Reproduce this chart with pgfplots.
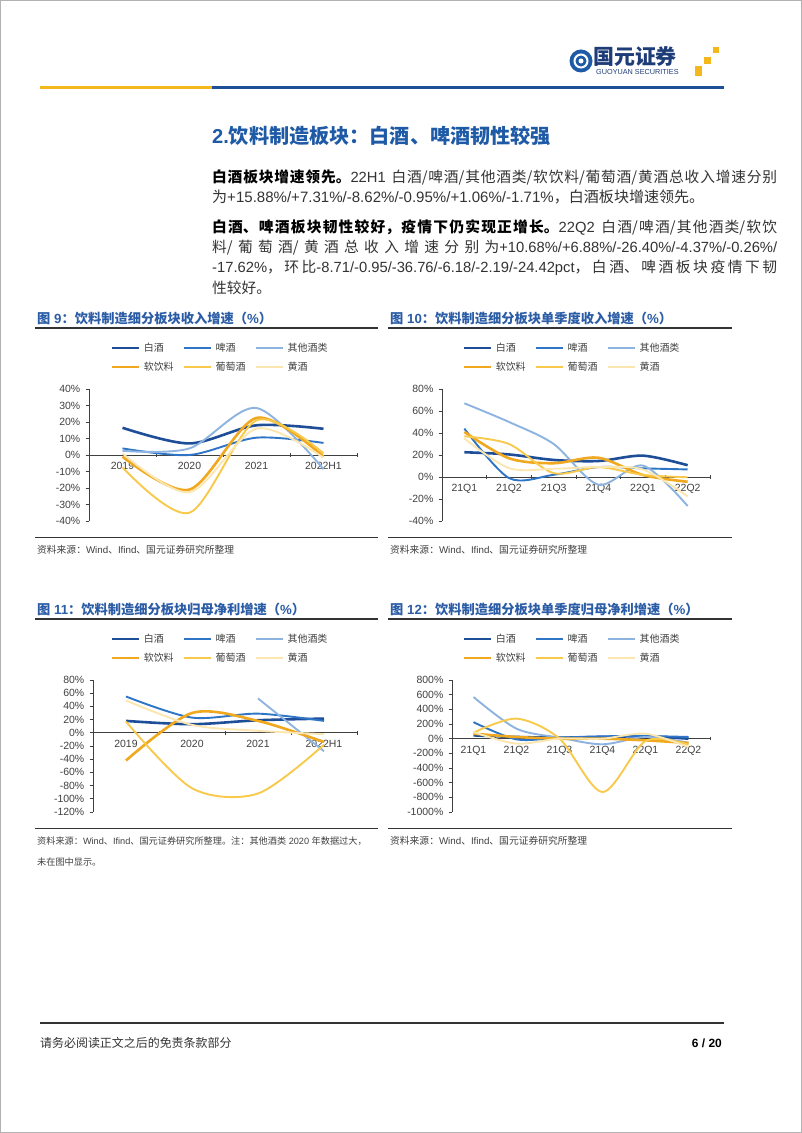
\documentclass[border=0pt]{standalone}
\usepackage{pgfplots}
\pgfplotsset{compat=1.18}
\usepackage{fontspec}
\setmainfont{Liberation Sans}
\newfontfamily\cjk{Noto Sans CJK SC}
\newcommand\C[1]{{\cjk #1}}
\XeTeXlinebreaklocale "zh"
\XeTeXlinebreakskip=0pt plus 1pt
\definecolor{baijiu}{HTML}{1F4E99}
\definecolor{pijiu}{HTML}{2E75C6}
\definecolor{qita}{HTML}{8DB3E0}
\definecolor{ruan}{HTML}{F0A81E}
\definecolor{putao}{HTML}{F8C94A}
\definecolor{huang}{HTML}{FBE6B0}
\definecolor{ttlblue}{HTML}{2B5CA6}
\definecolor{hdrblue}{HTML}{1F5AA6}
\definecolor{logoblue}{HTML}{1E3C78}
\definecolor{axcol}{HTML}{404040}
\definecolor{txt}{HTML}{333333}
\definecolor{gold}{HTML}{F5B81C}
\newcommand\LG[1]{\makebox[39bp][l]{\C{#1}}}
\newcommand\JL[1]{\parbox[c]{565bp}{\tolerance=10000\parfillskip=0pt\relax #1}}
\pgfplotsset{
  rept/.style={
    scale only axis, height=132bp,
    axis x line=middle, axis y line=left,
    axis line style={-, draw=axcol, line width=0.8bp},
    hide obscured x ticks=false, hide obscured y ticks=false,
    enlargelimits=false, clip=false,
    xmin=-0.5,
    xticklabels={},
    xtick align=center, ytick align=outside,
    tick style={draw=axcol, line width=0.8bp},
    major tick length=3.5bp,
    extra x tick style={major tick length=0pt},
    ticklabel style={font=\fontsize{10.5}{12}\selectfont, text=axcol},
    xticklabel style={inner sep=0pt, anchor=north, yshift=-7bp},
    yticklabel style={inner sep=0pt, anchor=east, xshift=-5bp},
    legend columns=3,
    legend cell align=left,
    legend style={draw=none, fill=none, inner sep=0pt, row sep=11bp, anchor=north west,
      nodes={inner sep=0pt, text height=7.8bp, text depth=0.2bp, font=\fontsize{10}{12}\selectfont, text=axcol},
      /tikz/every odd column/.append style={column sep=4bp}},
    legend image code/.code={\draw[##1] (0bp,0bp) -- (27bp,0bp);},
  },
  sBJ/.style={baijiu, line width=2.6bp, smooth},
  sPJ/.style={pijiu, line width=1.9bp, smooth},
  sQT/.style={qita, line width=1.9bp, smooth},
  sRY/.style={ruan, line width=2.6bp, smooth},
  sPT/.style={putao, line width=1.9bp, smooth},
  sHJ/.style={huang, line width=1.9bp, smooth},
}
\begin{document}
\begin{tikzpicture}[x=1bp,y=1bp]
\begin{scope}[shift={(0,1133)}, yscale=-1]
\fill[white] (0,0) rectangle (802,1133);
\draw[gray!60, line width=0.8bp] (0.4,0.4) rectangle (801.6,1132.6);
% header
\fill[hdrblue] (581,61) circle (11.5);
\draw[white, line width=2bp] (581,61) circle (6.5);
\fill[white] (581,61) circle (2.5);
\node[anchor=west, inner sep=0pt, text=logoblue] at (593,56) {\fontsize{21}{24}\selectfont\C{\bfseries 国元证券}};
\node[anchor=west, inner sep=0pt, text=logoblue] at (596,72.5) {\fontsize{7.3}{8}\selectfont GUOYUAN SECURITIES};
\fill[gold] (695,66) rectangle (702,76);
\fill[gold] (704,57) rectangle (711,64);
\fill[gold] (713,47) rectangle (719,53);
\draw[gold, line width=3bp] (40,88) -- (212,88);
\draw[baijiu, line width=3bp] (212,88) -- (724,88);
% section title and text
\node[anchor=west, inner sep=0pt, text=hdrblue] at (212,136) {\fontsize{20.2}{24}\selectfont\bfseries 2.\C{饮料制造板块：白酒、啤酒韧性较强}};
\begin{scope}[every node/.style={anchor=west, inner sep=0pt, text=txt, font=\fontsize{14.8}{17}\selectfont}]
\node at (212,177) {\JL{{\color{black}\C{\bfseries 白酒板块增速领先。}}\mbox{22H1} \C{白酒/啤酒/其他酒类/软饮料/葡萄酒/黄酒总收入增速分别}}};
\node at (212,197) {\fontsize{15.1}{17}\selectfont\C{为}+15.88\%/+7.31\%/-8.62\%/-0.95\%/+1.06\%/-1.71\%\C{，白酒板块增速领先。}};
\node at (212,227) {\JL{{\color{black}\C{\bfseries 白酒、啤酒板块韧性较好，疫情下仍实现正增长。}}\mbox{22Q2} \C{白酒/啤酒/其他酒类/软饮}}};
\node at (212,248) {\JL{\C{料/葡萄酒/黄酒总收入增速分别为}\mbox{+10.68\%/+6.88\%/-26.40\%/-4.37\%/-0.26\%/}}};
\node at (212,268) {\JL{\mbox{-17.62\%}\C{，环比}\mbox{-8.71/-0.95/-36.76/-6.18/-2.19/-24.42pct}\C{，白酒、啤酒板块疫情下韧}}};
\node at (212,288) {\C{性较好。}};
\end{scope}
% chart titles
\begin{scope}[every node/.style={anchor=west, inner sep=0pt, text=ttlblue, font=\fontsize{13.3}{15}\selectfont\bfseries}]
\node at (37,318) {\C{图} 9\C{：饮料制造细分板块收入增速（}\%\C{）}};
\node at (390,318) {\C{图} 10\C{：饮料制造细分板块单季度收入增速（}\%\C{）}};
\node at (37,610) {\C{图} 11\C{：饮料制造细分板块归母净利增速（}\%\C{）}};
\node at (390,610) {\C{图} 12\C{：饮料制造细分板块单季度归母净利增速（}\%\C{）}};
\end{scope}
\draw[black!80, line width=1.3bp] (35,328) -- (378,328);
\draw[black!80, line width=1.3bp] (388,328) -- (732,328);
\draw[black!80, line width=1.3bp] (35,619) -- (378,619);
\draw[black!80, line width=1.3bp] (388,619) -- (732,619);
\draw[black!80, line width=1bp] (35,538) -- (378,538);
\draw[black!80, line width=1bp] (388,538) -- (732,538);
\draw[black!80, line width=1bp] (35,829) -- (378,829);
\draw[black!80, line width=1bp] (388,829) -- (732,829);
\begin{scope}[every node/.style={anchor=west, inner sep=0pt, text=axcol, font=\fontsize{9.8}{12}\selectfont}]
\node at (37,550) {\C{资料来源：}Wind\C{、}Ifind\C{、国元证券研究所整理}};
\node at (390,550) {\C{资料来源：}Wind\C{、}Ifind\C{、国元证券研究所整理}};
\node at (37,841) {\fontsize{9.2}{12}\selectfont\C{资料来源：}Wind\C{、}Ifind\C{、国元证券研究所整理。注：其他酒类} 2020 \C{年数据过大，}};
\node at (37,862) {\fontsize{9.2}{12}\selectfont\C{未在图中显示。}};
\node at (390,841) {\C{资料来源：}Wind\C{、}Ifind\C{、国元证券研究所整理}};
\end{scope}
% footer
\draw[black!80, line width=2.2bp] (40,1023) -- (724,1023);
\node[anchor=west, inner sep=0pt, text=txt] at (40,1043) {\fontsize{12}{14}\selectfont\C{请务必阅读正文之后的免责条款部分}};
\node[anchor=east, inner sep=0pt, text=black] at (722,1043) {\fontsize{12}{14}\selectfont\bfseries 6 / 20};
\end{scope}

% ---------- Chart 9 ----------
\begin{axis}[rept, at={(89bp,612bp)}, anchor=south west, width=268bp,
  xmax=3.5, ymin=-40, ymax=40,
  xtick={0.5,1.5,2.5,3.5},
  extra x ticks={0,1,2,3}, extra x tick labels={2019,2020,2021,2022H1},
  ytick={-40,-30,-20,-10,0,10,20,30,40},
  yticklabels={-40\%,-30\%,-20\%,-10\%,0\%,10\%,20\%,30\%,40\%},
  legend style={at={(0.0784,1.341)}}]
\addplot[sBJ] coordinates {(0,16.5)(1,7)(2,18)(3,15.88)};
\addplot[sPJ] coordinates {(0,4)(1,0)(2,10.5)(3,7.31)};
\addplot[sQT] coordinates {(0,2.5)(1,4)(2,28.5)(3,-8.62)};
\addplot[sRY] coordinates {(0,-1)(1,-21)(2,22.5)(3,-0.95)};
\addplot[sPT] coordinates {(0,-7.5)(1,-35)(2,21)(3,1.06)};
\addplot[sHJ] coordinates {(0,1)(1,-22.5)(2,16)(3,-1.71)};
\legend{\LG{白酒},\LG{啤酒},\LG{其他酒类},\LG{软饮料},\LG{葡萄酒},\LG{黄酒}}
\end{axis}

% ---------- Chart 10 ----------
\begin{axis}[rept, at={(442bp,612bp)}, anchor=south west, width=268bp,
  xmax=5.5, ymin=-40, ymax=80,
  xtick={0.5,1.5,2.5,3.5,4.5,5.5},
  extra x ticks={0,1,2,3,4,5}, extra x tick labels={21Q1,21Q2,21Q3,21Q4,22Q1,22Q2},
  ytick={-40,-20,0,20,40,60,80},
  yticklabels={-40\%,-20\%,0\%,20\%,40\%,60\%,80\%},
  legend style={at={(0.0746,1.341)}}]
\addplot[sBJ] coordinates {(0,22.5)(1,20.5)(2,15.5)(3,14.5)(4,19.39)(5,10.68)};
\addplot[sPJ] coordinates {(0,44)(1,-1)(2,2)(3,9)(4,7.83)(5,6.88)};
\addplot[sQT] coordinates {(0,67)(1,50)(2,30)(3,-7)(4,10.36)(5,-26.40)};
\addplot[sRY] coordinates {(0,41)(1,17)(2,12.5)(3,17.5)(4,1.81)(5,-4.37)};
\addplot[sPT] coordinates {(0,37)(1,30)(2,3.5)(3,9)(4,1.93)(5,-0.26)};
\addplot[sHJ] coordinates {(0,35)(1,8)(2,7.5)(3,9)(4,6.80)(5,-17.62)};
\legend{\LG{白酒},\LG{啤酒},\LG{其他酒类},\LG{软饮料},\LG{葡萄酒},\LG{黄酒}}
\end{axis}

% ---------- Chart 11 ----------
\begin{axis}[rept, at={(93bp,321bp)}, anchor=south west, width=264bp,
  xmax=3.5, ymin=-120, ymax=80,
  xtick={0.5,1.5,2.5,3.5},
  extra x ticks={0,1,2,3}, extra x tick labels={2019,2020,2021,2022H1},
  ytick={-120,-100,-80,-60,-40,-20,0,20,40,60,80},
  yticklabels={-120\%,-100\%,-80\%,-60\%,-40\%,-20\%,0\%,20\%,40\%,60\%,80\%},
  legend style={at={(0.0644,1.341)}}]
\addplot[sBJ] coordinates {(0,18)(1,13)(2,19)(3,21.5)};
\addplot[sPJ] coordinates {(0,55)(1,23)(2,29)(3,18)};
\addplot[sQT] coordinates {(2,52)(3,-28)};
\addplot[sRY] coordinates {(0,-42)(1,30)(2,18)(3,-14)};
\addplot[sPT] coordinates {(0,17)(1,-84)(2,-92)(3,-18)};
\addplot[sHJ] coordinates {(0,49)(1,12)(2,3)(3,-2)};
\legend{\LG{白酒},\LG{啤酒},\LG{其他酒类},\LG{软饮料},\LG{葡萄酒},\LG{黄酒}}
\end{axis}

% ---------- Chart 12 ----------
\begin{axis}[rept, at={(452bp,321bp)}, anchor=south west, width=258bp,
  xmax=5.5, ymin=-1000, ymax=800,
  xtick={0.5,1.5,2.5,3.5,4.5,5.5},
  extra x ticks={0,1,2,3,4,5}, extra x tick labels={21Q1,21Q2,21Q3,21Q4,22Q1,22Q2},
  ytick={-1000,-800,-600,-400,-200,0,200,400,600,800},
  yticklabels={-1000\%,-800\%,-600\%,-400\%,-200\%,0\%,200\%,400\%,600\%,800\%},
  legend style={at={(0.0388,1.341)}}]
\addplot[sBJ] coordinates {(0,45)(1,23)(2,14)(3,23)(4,32)(5,0)};
\addplot[sPJ] coordinates {(0,225)(1,-10)(2,14)(3,32)(4,36)(5,23)};
\addplot[sQT] coordinates {(0,568)(1,136)(2,14)(3,-77)(4,23)(5,-55)};
\addplot[sRY] coordinates {(0,68)(1,23)(2,0)(3,0)(4,-23)(5,-59)};
\addplot[sPT] coordinates {(0,82)(1,273)(2,0)(3,-727)(4,-32)(5,-82)};
\addplot[sHJ] coordinates {(0,90)(1,-68)(2,0)(3,0)(4,68)(5,-114)};
\legend{\LG{白酒},\LG{啤酒},\LG{其他酒类},\LG{软饮料},\LG{葡萄酒},\LG{黄酒}}
\end{axis}
\end{tikzpicture}
\end{document}
